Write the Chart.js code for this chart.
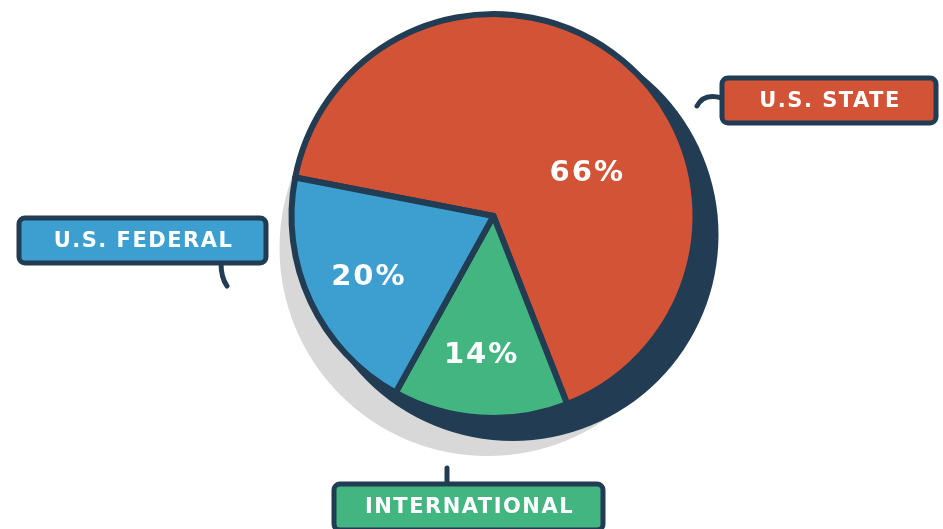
<!DOCTYPE html>
<html lang="en">
<head>
    <meta charset="UTF-8">
    <title>Funding Sources</title>
    <script src="https://cdn.jsdelivr.net/npm/chart.js"></script>
    <style>
        html, body {
            margin: 0;
            padding: 0;
            background: #ffffff;
        }
        .chart-container {
            position: relative;
            width: 943px;
            height: 529px;
        }
    </style>
</head>
<body>
    <div class="chart-container">
        <canvas id="pieChart"></canvas>
    </div>

    <script>
        // Data
        const categories = ['U.S. State', 'International', 'U.S. Federal'];
        const shares = [66, 14, 20];
        const sliceColors = ['#d35337', '#43b581', '#3d9fd0'];
        const calloutLabels = ['U.S. STATE', 'INTERNATIONAL', 'U.S. FEDERAL'];

        const NAVY = '#213c53';
        const GRAY = '#d8d8d8';
        const FONT = '"DejaVu Sans", sans-serif';

        // where each percent label sits: [angle shift from slice middle (deg), fraction of radius]
        const pctPlacement = [[25, 0.5], [1.5, 0.68], [-0.7, 0.68]];

        // callout boxes (outer edge of frame) and their little tails
        const callouts = [
            { x: 722, y: 78, w: 214, h: 45, tail: [[697, 106], [702, 96], [712, 95], [722, 98]] },
            { x: 334, y: 484, w: 269, h: 46, tail: [[447, 468], [447, 474], [447, 480], [447, 486]] },
            { x: 19, y: 218, w: 247, h: 45, tail: [[221, 263], [221, 272], [222, 279], [227, 286]] }
        ];

        const shadowPlugin = {
            id: 'shadows',
            beforeDatasetsDraw(chart) {
                const arc = chart.getDatasetMeta(0).data[0];
                const ctx = chart.ctx;
                const R = arc.outerRadius + 3;
                ctx.save();
                ctx.fillStyle = GRAY;
                ctx.beginPath();
                ctx.arc(arc.x - 6, arc.y + 32, R + 3, 0, Math.PI * 2);
                ctx.fill();
                ctx.fillStyle = NAVY;
                ctx.beginPath();
                ctx.arc(arc.x + 19, arc.y + 19, R + 1, 0, Math.PI * 2);
                ctx.fill();
                ctx.restore();
            }
        };

        const labelPlugin = {
            id: 'labels',
            afterDatasetsDraw(chart) {
                const ctx = chart.ctx;
                const arcs = chart.getDatasetMeta(0).data;
                ctx.save();
                ctx.fillStyle = '#ffffff';
                ctx.textAlign = 'center';
                ctx.textBaseline = 'middle';
                ctx.font = 'bold 29px ' + FONT;
                ctx.letterSpacing = '2px';
                arcs.forEach((arc, i) => {
                    const mid = (arc.startAngle + arc.endAngle) / 2 + pctPlacement[i][0] * Math.PI / 180;
                    const r = (arc.outerRadius + 3) * pctPlacement[i][1];
                    const px = arc.x + Math.cos(mid) * r;
                    const py = arc.y + Math.sin(mid) * r;
                    ctx.fillText(shares[i] + '%', px + 1, py + 1);
                });
                ctx.restore();

                // callout boxes
                ctx.save();
                callouts.forEach((c, i) => {
                    // tail
                    ctx.strokeStyle = NAVY;
                    ctx.lineWidth = 5;
                    ctx.lineCap = 'round';
                    ctx.beginPath();
                    const t = c.tail;
                    ctx.moveTo(t[0][0], t[0][1]);
                    ctx.bezierCurveTo(t[1][0], t[1][1], t[2][0], t[2][1], t[3][0], t[3][1]);
                    ctx.stroke();

                    // box
                    ctx.fillStyle = sliceColors[i];
                    ctx.lineWidth = 5;
                    ctx.beginPath();
                    ctx.roundRect(c.x, c.y, c.w, c.h, 6);
                    ctx.fill();
                    ctx.stroke();

                    // text
                    ctx.fillStyle = '#ffffff';
                    ctx.font = 'bold 21px ' + FONT;
                    ctx.letterSpacing = '1.5px';
                    ctx.textAlign = 'center';
                    ctx.textBaseline = 'middle';
                    ctx.fillText(calloutLabels[i], c.x + c.w / 2 + 1, c.y + c.h / 2 + 1);
                });
                ctx.restore();
            }
        };

        const ctx = document.getElementById('pieChart').getContext('2d');
        new Chart(ctx, {
            type: 'pie',
            data: {
                labels: categories,
                datasets: [{
                    data: shares,
                    backgroundColor: sliceColors,
                    borderColor: NAVY,
                    borderWidth: 6,
                    borderJoinStyle: 'round'
                }]
            },
            options: {
                responsive: true,
                maintainAspectRatio: false,
                animation: false,
                rotation: 281,
                layout: {
                    padding: { top: 11, bottom: 108, left: 44, right: 0 }
                },
                plugins: {
                    legend: { display: false },
                    tooltip: { enabled: false }
                }
            },
            plugins: [shadowPlugin, labelPlugin]
        });
    </script>
</body>
</html>
